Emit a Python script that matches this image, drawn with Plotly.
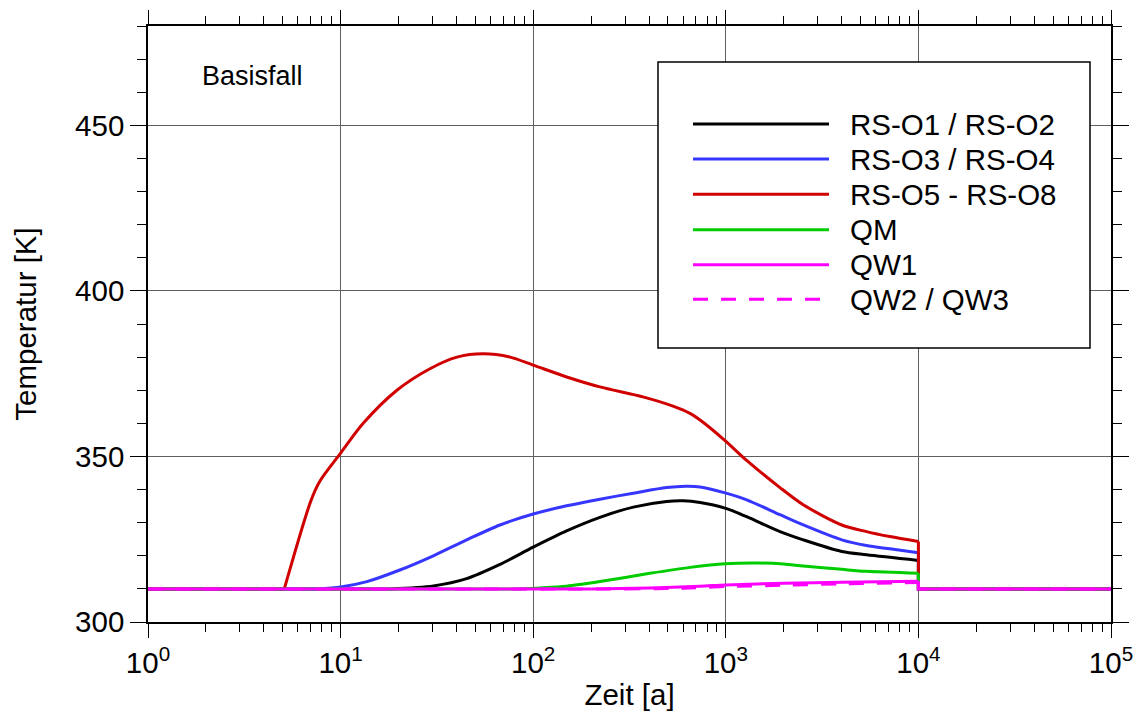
import plotly.graph_objects as go

# Temperaturverlauf an den Referenzpunkten (Zeit in Jahren, Temperatur in K)
t_rs12 = [1, 18, 30.3, 45.1, 67.2, 100, 149, 222, 331, 493, 600, 735, 991, 1283, 1911, 2525, 4000, 5380, 10000, 10000, 100000]
T_rs12 = [310, 310, 310.9, 313.1, 317.4, 322.6, 327.5, 331.6, 334.7, 336.4, 336.6, 336.1, 334.4, 331.8, 327.3, 324.8, 321.3, 320.3, 318.6, 310, 310]

t_rs34 = [1, 7.5, 10, 13.7, 20.3, 30.3, 45.1, 67.2, 100, 149, 222, 331, 493, 620, 735, 991, 1283, 1911, 2525, 4000, 5380, 7110, 10000, 10000, 100000]
T_rs34 = [310, 310, 310.6, 312.2, 315.7, 320.0, 324.8, 329.3, 332.6, 335.1, 337.1, 338.9, 340.6, 341.0, 340.8, 339.0, 336.9, 332.4, 329.3, 324.8, 323.1, 322.1, 320.9, 310, 310]

t_rs58 = [1, 5.1, 7.0, 7.8, 10, 13.1, 19.6, 29.1, 40.2, 54.9, 75.8, 99.8, 155, 222, 371, 532, 652, 735, 991, 1283, 1911, 2525, 4000, 5380, 7110, 10000, 10000, 100000]
T_rs58 = [310, 310, 336.5, 342.5, 351.0, 360.0, 370.0, 376.5, 380.0, 381.0, 380.0, 377.6, 373.7, 371.0, 368.0, 365.2, 363.0, 361.0, 354.8, 348.8, 340.6, 335.4, 329.3, 327.3, 325.8, 324.3, 310, 310]

t_qm = [1, 80, 108, 149, 222, 403, 652, 991, 1506, 2000, 2525, 4000, 5380, 10000, 10000, 100000]
T_qm = [310, 310, 310.3, 310.8, 312.2, 314.7, 316.5, 317.6, 317.8, 317.5, 316.9, 315.9, 315.3, 314.7, 310, 310]

t_qw1 = [1, 200, 403, 735, 1000, 2000, 4000, 10000, 10000, 100000]
T_qw1 = [310, 310, 310.3, 310.8, 311.2, 311.7, 312.0, 312.3, 310, 310]

t_qw23 = [1, 300, 600, 1000, 2000, 4000, 10000, 10000, 100000]
T_qw23 = [310, 310, 310.2, 310.7, 311.1, 311.5, 311.9, 310, 310]

series = [
    ("RS-O1 / RS-O2", t_rs12, T_rs12, "#000000", "solid"),
    ("RS-O3 / RS-O4", t_rs34, T_rs34, "#3636ff", "solid"),
    ("RS-O5 - RS-O8", t_rs58, T_rs58, "#d00000", "solid"),
    ("QM", t_qm, T_qm, "#00cc00", "solid"),
    ("QW1", t_qw1, T_qw1, "#ff00ff", "solid"),
    ("QW2 / QW3", t_qw23, T_qw23, "#ff00ff", "15px,13px"),
]

x_major = [1, 10, 100, 1000, 10000, 100000]
x_labels = ["10<sup>0</sup>", "10<sup>1</sup>", "10<sup>2</sup>", "10<sup>3</sup>", "10<sup>4</sup>", "10<sup>5</sup>"]
x_minor = [m * 10 ** k for k in range(5) for m in range(2, 10)]
y_major = [300, 350, 400, 450]

FONT = "Liberation Sans, Arial, sans-serif"
FS = 29.5
GRID = "#606060"

fig = go.Figure()
for name, t, T, color, dash in series:
    # flat start (linear), smooth transient (spline), step back at 1e4 and flat tail (linear)
    s = 0
    while s + 1 < len(T) and T[s + 1] == T[0]:
        s += 1
    d = next(i for i in range(1, len(t)) if t[i] == t[i - 1])
    parts = [(slice(0, s + 1), "linear"), (slice(s, d), "spline"), (slice(d - 1, len(t)), "linear")]
    for sl, shape in parts:
        fig.add_trace(go.Scatter(
            x=t[sl], y=T[sl], mode="lines", name=name, showlegend=False,
            line=dict(color=color, width=3, dash=dash, shape=shape,
                      smoothing=0.8 if shape == "spline" else None),
        ))

W, H = 1139, 716
ML, MR, MT, MB = 148, 28, 26, 94
PW, PH = W - ML - MR, H - MT - MB


def px(x):
    return (x - ML) / PW


def py(y):
    return (H - MB - y) / PH


shapes = [dict(type="rect", xref="paper", yref="paper",
               x0=px(658), x1=px(1090), y0=py(348), y1=py(62),
               line=dict(color="#000000", width=1.5), fillcolor="white", layer="above")]
annotations = [dict(text="Basisfall", xref="paper", yref="paper", x=px(200), y=py(76),
                    xanchor="left", yanchor="middle", showarrow=False,
                    font=dict(size=27, color="black", family=FONT))]

row_y = [124, 159, 194.3, 229.7, 264.7, 299.3]
for (name, _, _, color, dash), yy in zip(series, row_y):
    shapes.append(dict(type="line", xref="paper", yref="paper",
                       x0=px(693), x1=px(829), y0=py(yy), y1=py(yy),
                       line=dict(color=color, width=3, dash=dash), layer="above"))
    annotations.append(dict(text=name, xref="paper", yref="paper", x=px(848), y=py(yy),
                            xanchor="left", yanchor="middle", showarrow=False,
                            font=dict(size=FS, color="black", family=FONT)))

fig.update_layout(
    width=W, height=H,
    margin=dict(l=ML, r=MR, t=MT, b=MB, autoexpand=False),
    paper_bgcolor="white", plot_bgcolor="white",
    font=dict(family=FONT, size=FS, color="black"),
    shapes=shapes, annotations=annotations,
)

fig.update_xaxes(
    type="log", range=[0, 5],
    tickmode="array", tickvals=x_major, ticktext=x_labels,
    ticks="outside", ticklen=14, tickwidth=1.2, tickcolor="black",
    minor=dict(tickmode="array", tickvals=x_minor, ticks="outside", ticklen=8,
               tickwidth=1.2, tickcolor="black", showgrid=False),
    showgrid=True, gridcolor=GRID, gridwidth=1,
    showline=True, linecolor="black", linewidth=1.5, mirror="ticks",
    zeroline=False,
    tickfont=dict(size=FS, family=FONT),
    title=dict(text="Zeit [a]", font=dict(size=FS, family=FONT), standoff=6),
)
fig.update_yaxes(
    range=[300, 480],
    tickmode="array", tickvals=y_major,
    ticks="outside", ticklen=16, tickwidth=1.2, tickcolor="black",
    minor=dict(dtick=10, tick0=300, ticks="outside", ticklen=9,
               tickwidth=1.2, tickcolor="black", showgrid=False),
    showgrid=True, gridcolor=GRID, gridwidth=1,
    showline=True, linecolor="black", linewidth=1.5, mirror="ticks",
    zeroline=False,
    tickfont=dict(size=FS, family=FONT),
    title=dict(text="Temperatur [K]", font=dict(size=FS, family=FONT), standoff=30),
)

fig.write_html("out.html")
